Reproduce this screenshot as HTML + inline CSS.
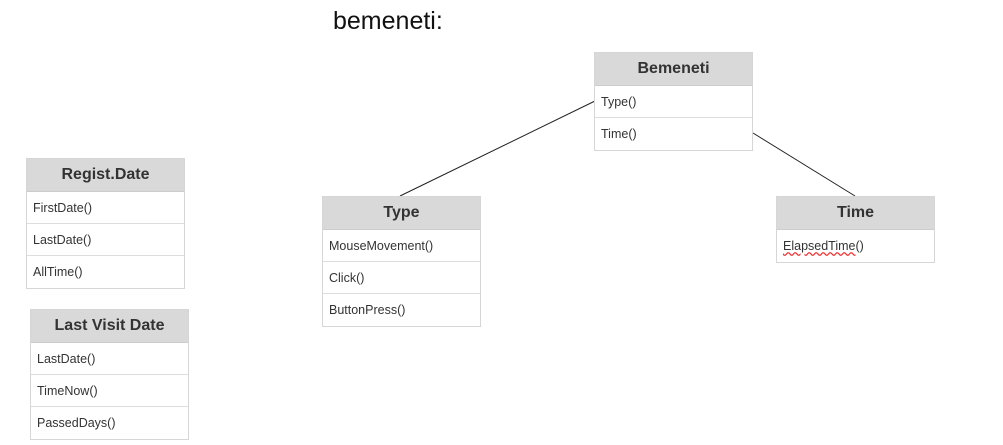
<!DOCTYPE html>
<html><head><style>
body{margin:0;width:1003px;height:445px;background:#fff;position:relative;font-family:"Liberation Sans",sans-serif;overflow:hidden}
.b{position:absolute;width:157px;border:1px solid #d6d6d6;background:#fff}
.h{height:32px;background:#d9d9d9;font-weight:bold;font-size:16px;color:#333;text-align:center;line-height:32px;border-bottom:1px solid #ccc}
.r{height:32px;line-height:32px;font-size:12.5px;color:#333;padding-left:6px;border-bottom:1px solid #ddd;box-sizing:border-box}
.r:last-child{border-bottom:none}
</style></head><body>
<div style="position:absolute;left:333px;top:7px;font-size:25px;color:#111">bemeneti:</div>
<svg style="position:absolute;left:0;top:0" width="1003" height="445"><line x1="595" y1="101" x2="400" y2="196" stroke="#222" stroke-width="1"/><line x1="753" y1="133" x2="855" y2="196" stroke="#222" stroke-width="1"/></svg>
<div class="b" style="left:594px;top:52px"><div class="h">Bemeneti</div><div class="r">Type()</div><div class="r">Time()</div></div>
<div class="b" style="left:26px;top:158px"><div class="h">Regist.Date</div><div class="r">FirstDate()</div><div class="r">LastDate()</div><div class="r">AllTime()</div></div>
<div class="b" style="left:30px;top:309px"><div class="h">Last Visit Date</div><div class="r">LastDate()</div><div class="r">TimeNow()</div><div class="r">PassedDays()</div></div>
<div class="b" style="left:322px;top:196px"><div class="h">Type</div><div class="r">MouseMovement()</div><div class="r">Click()</div><div class="r">ButtonPress()</div></div>
<div class="b" style="left:776px;top:196px"><div class="h">Time</div><div class="r"><span style="text-decoration:underline wavy #e33">ElapsedTime</span>()</div></div>
</body></html>
